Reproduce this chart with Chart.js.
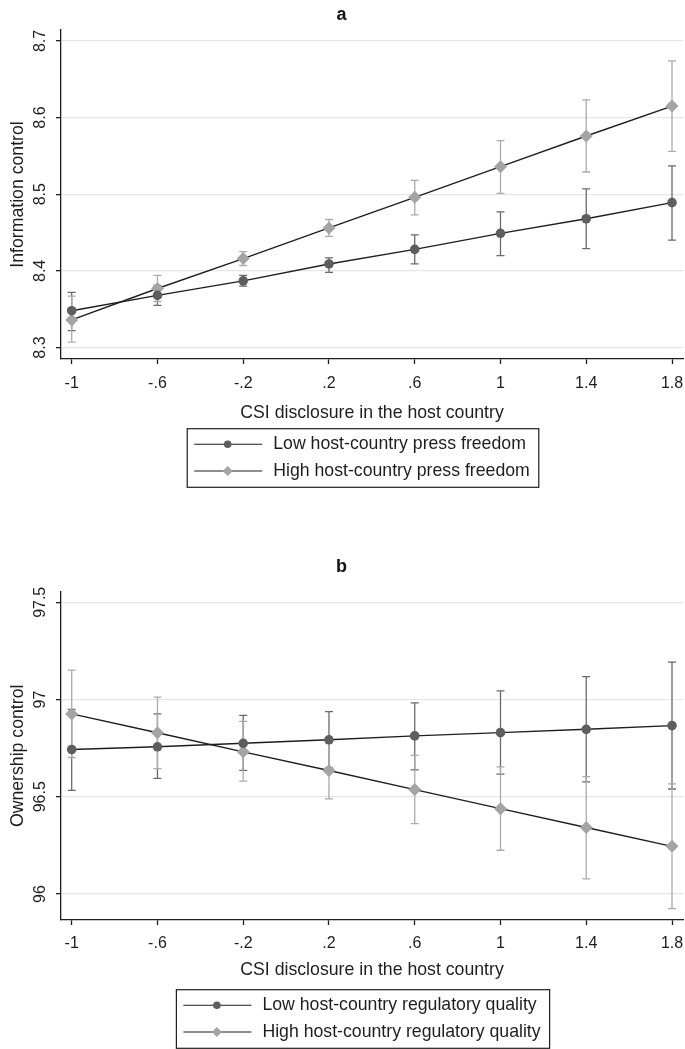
<!DOCTYPE html>
<html>
<head>
<meta charset="utf-8">
<script src="https://cdn.jsdelivr.net/npm/chart.js@4.4.0/dist/chart.umd.min.js"></script>
<style>
  body { margin: 0; background: #fff; }
  canvas { display: block; }
</style>
</head>
<body>
<canvas id="chartA" width="685" height="540"></canvas>
<canvas id="chartB" width="685" height="509"></canvas>
<script>
// shared x axis
const xValues = [-1, -0.6, -0.2, 0.2, 0.6, 1, 1.4, 1.8];
const xTickLabels = ['-1', '-.6', '-.2', '.2', '.6', '1', '1.4', '1.8'];
const xTitle = 'CSI disclosure in the host country';

// panel a: information control
const yTicksA = [8.3, 8.4, 8.5, 8.6, 8.7];
const yTickLabelsA = ['8.3', '8.4', '8.5', '8.6', '8.7'];
const lowPressFreedom = [8.348, 8.368, 8.387, 8.409, 8.428, 8.449, 8.468, 8.489];
const lowPressFreedomLo = [8.322, 8.355, 8.380, 8.398, 8.409, 8.420, 8.429, 8.440];
const lowPressFreedomHi = [8.372, 8.381, 8.394, 8.417, 8.447, 8.477, 8.507, 8.537];
const highPressFreedom = [8.336, 8.377, 8.416, 8.456, 8.496, 8.536, 8.576, 8.615];
const highPressFreedomLo = [8.307, 8.360, 8.407, 8.445, 8.473, 8.501, 8.529, 8.556];
const highPressFreedomHi = [8.367, 8.394, 8.425, 8.467, 8.518, 8.570, 8.623, 8.674];

// panel b: ownership control
const yTicksB = [96, 96.5, 97, 97.5];
const yTickLabelsB = ['96', '96.5', '97', '97.5'];
const lowRegQuality = [96.743, 96.757, 96.775, 96.793, 96.813, 96.830, 96.847, 96.866];
const lowRegQualityLo = [96.533, 96.595, 96.636, 96.648, 96.638, 96.616, 96.577, 96.540];
const lowRegQualityHi = [96.949, 96.926, 96.919, 96.938, 96.983, 97.045, 97.118, 97.192];
const highRegQuality = [96.926, 96.829, 96.731, 96.635, 96.537, 96.439, 96.342, 96.245];
const highRegQualityLo = [96.702, 96.645, 96.580, 96.489, 96.362, 96.225, 96.078, 95.925];
const highRegQualityHi = [97.151, 97.012, 96.888, 96.783, 96.713, 96.654, 96.604, 96.566];

const FONT = "'Liberation Sans', Arial, sans-serif";
const INK = '#1e1e1e';
const DARK = '#5e5e5e';
const LIGHT = '#a4a4a4';
const DARK_BAR = '#6a6a6a';
const LIGHT_BAR = '#ababab';

Chart.defaults.font.family = FONT;
Chart.defaults.color = INK;

// vertical CI bars with caps, drawn under the lines
const errorBarPlugin = {
    id: 'errorBars',
    beforeDatasetsDraw(chart, args, opts) {
        const { ctx } = chart;
        const xs = chart.scales.x, ys = chart.scales.y;
        ctx.save();
        ctx.lineWidth = 1.3;
        opts.sets.forEach(set => {
            ctx.strokeStyle = set.color;
            xValues.forEach((xv, i) => {
                const px = xs.getPixelForValue(xv);
                const top = ys.getPixelForValue(set.hi[i]);
                const bot = ys.getPixelForValue(set.lo[i]);
                ctx.beginPath();
                ctx.moveTo(px, top); ctx.lineTo(px, bot);
                ctx.moveTo(px - 4, top); ctx.lineTo(px + 4, top);
                ctx.moveTo(px - 4, bot); ctx.lineTo(px + 4, bot);
                ctx.stroke();
            });
        });
        ctx.restore();
    }
};

// tick labels: y rotated like the original (reading bottom to top), x under the ticks
const axisLabels = {
    id: 'axisLabels',
    afterDraw(chart, args, opts) {
        const { ctx } = chart;
        const xs = chart.scales.x, ys = chart.scales.y;
        ctx.save();
        ctx.font = '16px ' + FONT;
        ctx.fillStyle = INK;
        ctx.textAlign = 'center';
        ctx.textBaseline = 'middle';
        opts.yValues.forEach((v, i) => {
            const py = ys.getPixelForValue(v);
            ctx.save();
            ctx.translate(ys.right - 20, py);
            ctx.rotate(-Math.PI / 2);
            ctx.fillText(opts.yLabels[i], 0, 0);
            ctx.restore();
        });
        xValues.forEach((v, i) => {
            ctx.fillText(xTickLabels[i], xs.getPixelForValue(v), xs.top + opts.xOffset);
        });
        ctx.restore();
    }
};

// boxed legend below the x title, line + marker samples
const boxLegend = {
    id: 'boxLegend',
    afterDraw(chart, args, opts) {
        const { ctx, chartArea } = chart;
        ctx.save();
        ctx.font = '17.7px ' + FONT;
        const dsets = chart.data.datasets;
        const textW = Math.max(...dsets.map(d => ctx.measureText(d.label).width));
        const w = 86 + textW + 9;
        const h = 58.6;
        const left = (chartArea.left + chartArea.right) / 2 - 9 - w / 2;
        const top = chartArea.bottom + opts.offset;
        ctx.strokeStyle = INK;
        ctx.lineWidth = 1.2;
        ctx.strokeRect(left, top, w, h);
        dsets.forEach((d, i) => {
            const cy = top + 15.6 + i * 26.7;
            ctx.strokeStyle = INK;
            ctx.lineWidth = 1.1;
            ctx.beginPath();
            ctx.moveTo(left + 7, cy); ctx.lineTo(left + 75, cy);
            ctx.stroke();
            ctx.fillStyle = d.pointBackgroundColor;
            ctx.beginPath();
            if (d.pointStyle === 'rectRot') {
                const r = 5;
                ctx.moveTo(left + 40.5 - r, cy); ctx.lineTo(left + 40.5, cy - r);
                ctx.lineTo(left + 40.5 + r, cy); ctx.lineTo(left + 40.5, cy + r);
                ctx.closePath();
            } else {
                ctx.arc(left + 40.5, cy, 3.8, 0, Math.PI * 2);
            }
            ctx.fill();
            ctx.fillStyle = INK;
            ctx.textAlign = 'left';
            ctx.textBaseline = 'middle';
            ctx.fillText(d.label, left + 86, cy);
        });
        ctx.restore();
    }
};

function seriesDataset(label, values, style) {
    const dark = style === 'circle';
    return {
        label: label,
        data: xValues.map((x, i) => ({ x: x, y: values[i] })),
        borderColor: INK,
        borderWidth: 1.4,
        tension: 0,
        pointStyle: dark ? 'circle' : 'rectRot',
        pointRadius: dark ? 4.8 : 6.5,
        pointBorderWidth: 0,
        pointBackgroundColor: dark ? DARK : LIGHT,
        pointBorderColor: dark ? DARK : LIGHT
    };
}

function buildPanel(canvasId, cfg) {
    return new Chart(document.getElementById(canvasId), {
        type: 'line',
        data: {
            datasets: [
                seriesDataset(cfg.lowLabel, cfg.low, 'circle'),
                seriesDataset(cfg.highLabel, cfg.high, 'diamond')
            ]
        },
        options: {
            responsive: false,
            animation: false,
            layout: { autoPadding: false, padding: { left: 0, right: 2, top: 0, bottom: cfg.padBottom } },
            plugins: {
                legend: { display: false },
                tooltip: { enabled: false },
                title: {
                    display: true,
                    text: cfg.title,
                    font: { size: 18, weight: 'bold' },
                    color: '#111',
                    padding: { top: cfg.titleTop, bottom: cfg.titleBottom }
                },
                errorBars: {
                    sets: [
                        { lo: cfg.lowLo, hi: cfg.lowHi, color: DARK_BAR },
                        { lo: cfg.highLo, hi: cfg.highHi, color: LIGHT_BAR }
                    ]
                },
                axisLabels: { yValues: cfg.yTicks, yLabels: cfg.yTickLabels, xOffset: cfg.xLabelOffset },
                boxLegend: { offset: 69.7 }
            },
            scales: {
                x: {
                    type: 'linear',
                    min: -1.0499,
                    max: 1.8513,
                    afterBuildTicks: s => { s.ticks = xValues.map(v => ({ value: v })); },
                    afterFit: s => { s.height = cfg.xHeight; },
                    ticks: { display: false },
                    grid: { drawOnChartArea: false, tickLength: 5, tickColor: INK, tickWidth: 1.3 },
                    border: { color: INK, width: 1.3 },
                    title: { display: true, text: xTitle, font: { size: 17.7 }, color: INK, padding: 0 }
                },
                y: {
                    type: 'linear',
                    min: cfg.yMin,
                    max: cfg.yMax,
                    afterBuildTicks: s => { s.ticks = cfg.yTicks.map(v => ({ value: v })); },
                    afterFit: s => { s.width = 61; },
                    ticks: { display: false },
                    grid: { color: '#e6e6e6', lineWidth: 1.3, tickLength: 5, tickColor: INK, tickWidth: 1.3 },
                    border: { color: INK, width: 1.3 },
                    title: {
                        display: true,
                        text: cfg.yTitle,
                        font: { size: 17.7 },
                        color: INK,
                        padding: { top: 7.7, bottom: 0 }
                    }
                }
            }
        },
        plugins: [errorBarPlugin, axisLabels, boxLegend]
    });
}

buildPanel('chartA', {
    title: 'a',
    titleTop: 4, titleBottom: 4.4,
    padBottom: 116.5, xHeight: 64.5, xLabelOffset: 25,
    yMin: 8.285, yMax: 8.7143,
    yTicks: yTicksA, yTickLabels: yTickLabelsA,
    yTitle: 'Information control',
    lowLabel: 'Low host-country press freedom',
    highLabel: 'High host-country press freedom',
    low: lowPressFreedom, lowLo: lowPressFreedomLo, lowHi: lowPressFreedomHi,
    high: highPressFreedom, highLo: highPressFreedomLo, highHi: highPressFreedomHi
});

buildPanel('chartB', {
    title: 'b',
    titleTop: 16, titleBottom: 14.1,
    padBottom: 68.2, xHeight: 60.8, xLabelOffset: 23.5,
    yMin: 95.8663, yMax: 97.5545,
    yTicks: yTicksB, yTickLabels: yTickLabelsB,
    yTitle: 'Ownership control',
    lowLabel: 'Low host-country regulatory quality',
    highLabel: 'High host-country regulatory quality',
    low: lowRegQuality, lowLo: lowRegQualityLo, lowHi: lowRegQualityHi,
    high: highRegQuality, highLo: highRegQualityLo, highHi: highRegQualityHi
});
</script>
</body>
</html>
